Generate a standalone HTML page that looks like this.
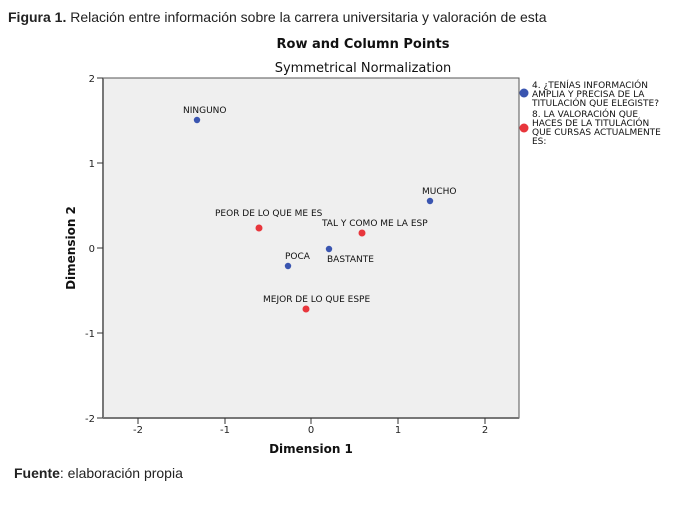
<!DOCTYPE html>
<html><head><meta charset="utf-8"><style>
body{margin:0;background:#fff;width:681px;height:500px;overflow:hidden;font-family:"Liberation Sans",sans-serif}
</style></head><body>
<svg width="681" height="500" xmlns="http://www.w3.org/2000/svg" font-family="DejaVu Sans, Liberation Sans, sans-serif">
<text x="8" y="22" font-family="Liberation Sans" font-size="14" fill="#222"><tspan font-weight="bold">Figura 1.</tspan> Relación entre información sobre la carrera universitaria y valoración de esta</text>
<text x="363" y="48" font-size="13" font-weight="bold" text-anchor="middle" fill="#111">Row and Column Points</text>
<text x="363" y="72" font-size="13" text-anchor="middle" fill="#111">Symmetrical Normalization</text>
<rect x="103" y="78" width="416" height="340" fill="#efefef" stroke="#555" stroke-width="1"/>
<line x1="103" y1="78" x2="103" y2="418" stroke="#777" stroke-width="2"/>
<line x1="103" y1="418" x2="519" y2="418" stroke="#777" stroke-width="2"/>
<g stroke="#333" stroke-width="1">
<line x1="97" y1="78" x2="103" y2="78"/><line x1="97" y1="163" x2="103" y2="163"/><line x1="97" y1="248" x2="103" y2="248"/><line x1="97" y1="333" x2="103" y2="333"/><line x1="97" y1="418" x2="103" y2="418"/>
<line x1="138" y1="418" x2="138" y2="424"/><line x1="225" y1="418" x2="225" y2="424"/><line x1="311" y1="418" x2="311" y2="424"/><line x1="398" y1="418" x2="398" y2="424"/><line x1="485" y1="418" x2="485" y2="424"/>
</g>
<g font-size="10" fill="#222" text-anchor="end">
<text x="95" y="82">2</text><text x="95" y="167">1</text><text x="95" y="252">0</text><text x="95" y="337">-1</text><text x="95" y="422">-2</text>
</g>
<g font-size="10" fill="#222" text-anchor="middle">
<text x="138" y="433">-2</text><text x="225" y="433">-1</text><text x="311" y="433">0</text><text x="398" y="433">1</text><text x="485" y="433">2</text>
</g>
<text x="311" y="453" font-size="12" font-weight="bold" text-anchor="middle" fill="#111">Dimension 1</text>
<text transform="translate(75,248) rotate(-90)" font-size="12" font-weight="bold" text-anchor="middle" fill="#111">Dimension 2</text>
<g font-size="9" fill="#111">
<text x="183" y="113">NINGUNO</text>
<text x="422" y="194">MUCHO</text>
<text x="327" y="262">BASTANTE</text>
<text x="285" y="259">POCA</text>
<text x="215" y="216">PEOR DE LO QUE ME ES</text>
<text x="322" y="226">TAL Y COMO ME LA ESP</text>
<text x="263" y="302">MEJOR DE LO QUE ESPE</text>
</g>
<g fill="#3a55b0">
<circle cx="197" cy="120" r="3.2"/><circle cx="430" cy="201" r="3.2"/><circle cx="329" cy="249" r="3.2"/><circle cx="288" cy="266" r="3.2"/>
<circle cx="524" cy="93" r="4.5"/>
</g>
<g fill="#e8363c">
<circle cx="259" cy="228" r="3.5"/><circle cx="362" cy="233" r="3.5"/><circle cx="306" cy="309" r="3.5"/>
<circle cx="524" cy="128" r="4.5"/>
</g>
<g font-size="9" fill="#111">
<text x="532" y="88">4. ¿TENÍAS INFORMACIÓN</text>
<text x="532" y="97">AMPLIA Y PRECISA DE LA</text>
<text x="532" y="106">TITULACIÓN QUE ELEGISTE?</text>
<text x="532" y="117">8. LA VALORACIÓN QUE</text>
<text x="532" y="126">HACES DE LA TITULACIÓN</text>
<text x="532" y="135">QUE CURSAS ACTUALMENTE</text>
<text x="532" y="144">ES:</text>
</g>
<text x="14" y="478" font-family="Liberation Sans" font-size="14" fill="#222"><tspan font-weight="bold">Fuente</tspan>: elaboración propia</text>
</svg>
</body></html>
